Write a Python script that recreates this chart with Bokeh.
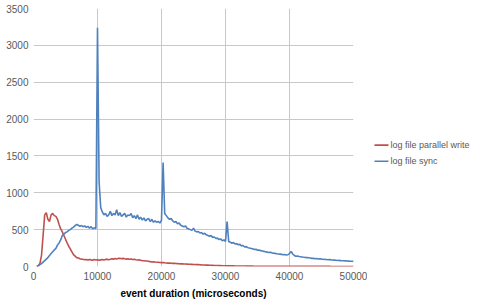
from bokeh.plotting import figure
from bokeh.models import ColumnDataSource, FixedTicker, Range1d, NumeralTickFormatter
from bokeh.layouts import row
from bokeh.core.properties import value
from bokeh.embed import file_html
from bokeh.resources import INLINE

# event duration bins (microseconds)
duration_us = list(range(500, 50001, 250))

parallel_write = [
    0, 10, 40, 150, 420, 700, 730, 640, 610, 700,
    720, 690, 680, 640, 570, 510, 470, 420, 370, 320,
    275, 240, 200, 160, 140, 120, 115, 105, 100, 98,
    92, 95, 88, 96, 90, 85, 94, 88, 92, 85,
    90, 95, 88, 96, 100, 92, 98, 105, 100, 108,
    102, 110, 112, 105, 110, 104, 100, 106, 98, 100,
    95, 98, 92, 88, 90, 84, 80, 78, 74, 75,
    70, 66, 62, 64, 60, 57, 58, 54, 52, 55,
    50, 48, 46, 47, 44, 42, 43, 40, 39, 38,
    36, 37, 34, 33, 32, 31, 30, 29, 28, 27,
    26, 25, 24, 22, 21, 20, 19, 18, 17, 16,
    15, 14, 14, 13, 12, 12, 11, 10, 10, 9,
    9, 8, 8, 8, 7, 7, 7, 6, 6, 6,
    6, 5, 5, 5, 5, 5, 4, 4, 4, 4,
    4, 4, 4, 4, 3, 3, 3, 3, 3, 3,
    3, 3, 3, 3, 3, 3, 3, 3, 3, 3,
    3, 2, 2, 2, 2, 2, 2, 2, 2, 2,
    2, 2, 2, 2, 2, 2, 2, 2, 2, 2,
    2, 2, 2, 2, 1, 1, 1, 1, 1, 1,
    1, 1, 1, 1, 1, 1, 1, 1, 1,
]

file_sync = [
    0, 10, 25, 40, 60, 80, 100, 120, 150, 175,
    200, 225, 245, 290, 320, 360, 420, 440, 460, 470,
    490, 500, 520, 535, 555, 570, 560, 545, 555, 540,
    550, 530, 545, 520, 540, 510, 525, 515, 3240, 1150,
    800, 740, 700, 720, 680, 700, 750, 690, 720, 700,
    770, 690, 730, 680, 700, 720, 670, 700, 690, 720,
    660, 690, 650, 700, 640, 670, 630, 660, 620, 640,
    650, 610, 640, 600, 620, 600, 610, 590, 630, 1410,
    720, 690, 660, 640, 650, 620, 600, 610, 580, 590,
    560, 550, 540, 550, 520, 510, 500, 490, 520, 480,
    470, 475, 455, 460, 440, 450, 430, 420, 410, 420,
    395, 400, 380, 385, 365, 375, 350, 360, 340, 610,
    340, 330, 315, 325, 305, 310, 295, 300, 280, 285,
    265, 270, 255, 250, 245, 240, 230, 235, 220, 225,
    215, 210, 205, 200, 195, 190, 192, 185, 180, 178,
    172, 170, 168, 165, 160, 162, 155, 160, 175, 205,
    170, 150, 140, 142, 135, 132, 128, 125, 122, 120,
    118, 116, 110, 112, 106, 108, 102, 104, 100, 98,
    96, 95, 92, 94, 90, 88, 86, 84, 82, 83,
    80, 78, 77, 76, 74, 73, 72, 71, 70,
]

series_names = ["log file parallel write", "log file sync"]
series_colors = ["#c0504d", "#4f81bd"]
x_ticks = [0, 10000, 20000, 30000, 40000, 50000]
y_ticks = [0, 500, 1000, 1500, 2000, 2500, 3000, 3500]

n = min(len(duration_us), len(parallel_write), len(file_sync))
src = ColumnDataSource(dict(x=duration_us[:n], pw=parallel_write[:n], sync=file_sync[:n]))

FONT = "Liberation Sans"

p = figure(width=367, height=304, output_backend="svg", toolbar_location=None,
           x_range=Range1d(0, 50000), y_range=Range1d(0, 3500),
           min_border_left=33, min_border_right=14, min_border_top=8, min_border_bottom=38)
p.outline_line_color = None
p.background_fill_color = "white"
p.border_fill_color = "white"

p.line("x", "pw", source=src, line_color=series_colors[0], line_width=1.6)
p.line("x", "sync", source=src, line_color=series_colors[1], line_width=1.6)

for ax in (p.xaxis[0], p.yaxis[0]):
    ax.axis_line_color = None
    ax.major_tick_line_color = None
    ax.minor_tick_line_color = None
    ax.major_tick_out = 0
    ax.major_tick_in = 0
    ax.minor_tick_out = 0
    ax.major_label_text_font = FONT
    ax.major_label_text_font_size = "10px"
    ax.major_label_text_color = "#595959"

p.xaxis[0].ticker = FixedTicker(ticks=x_ticks)
p.yaxis[0].ticker = FixedTicker(ticks=y_ticks)
p.xaxis[0].formatter = NumeralTickFormatter(format="0")
p.yaxis[0].formatter = NumeralTickFormatter(format="0")
p.xaxis[0].major_label_standoff = 5
p.yaxis[0].major_label_standoff = 5
p.xaxis[0].axis_label = "event duration (microseconds)"
p.xaxis[0].axis_label_text_font = FONT
p.xaxis[0].axis_label_text_font_size = "10px"
p.xaxis[0].axis_label_text_font_style = "bold"
p.xaxis[0].axis_label_text_color = "#000000"
p.xaxis[0].axis_label_standoff = 5

p.xgrid[0].ticker = FixedTicker(ticks=x_ticks)
p.ygrid[0].ticker = FixedTicker(ticks=y_ticks)
p.xgrid[0].grid_line_color = "#c8c8c8"
p.ygrid[0].grid_line_color = "#c8c8c8"

# legend panel (pixel-like coordinates: x from left, y from bottom)
lg = figure(width=110, height=304, output_backend="svg", toolbar_location=None,
            x_range=Range1d(0, 110), y_range=Range1d(0, 304),
            min_border=0, min_border_left=0, min_border_right=0,
            min_border_top=0, min_border_bottom=0)
lg.axis.visible = False
lg.grid.visible = False
lg.outline_line_color = None
lg.background_fill_color = "white"
lg.border_fill_color = "white"
leg_y = [143, 124]
lg.multi_line(xs=[[7, 21], [7, 21]], ys=[[leg_y[0]] * 2, [leg_y[1]] * 2],
              line_color=series_colors, line_width=1.6)
lg.text(x=[23, 23], y=leg_y, text=series_names, text_font=value(FONT),
        text_font_size="9px", text_color="#595959", text_baseline="middle")

layout = row(p, lg, spacing=0)
open("out.html", "w").write(file_html(layout, INLINE))
